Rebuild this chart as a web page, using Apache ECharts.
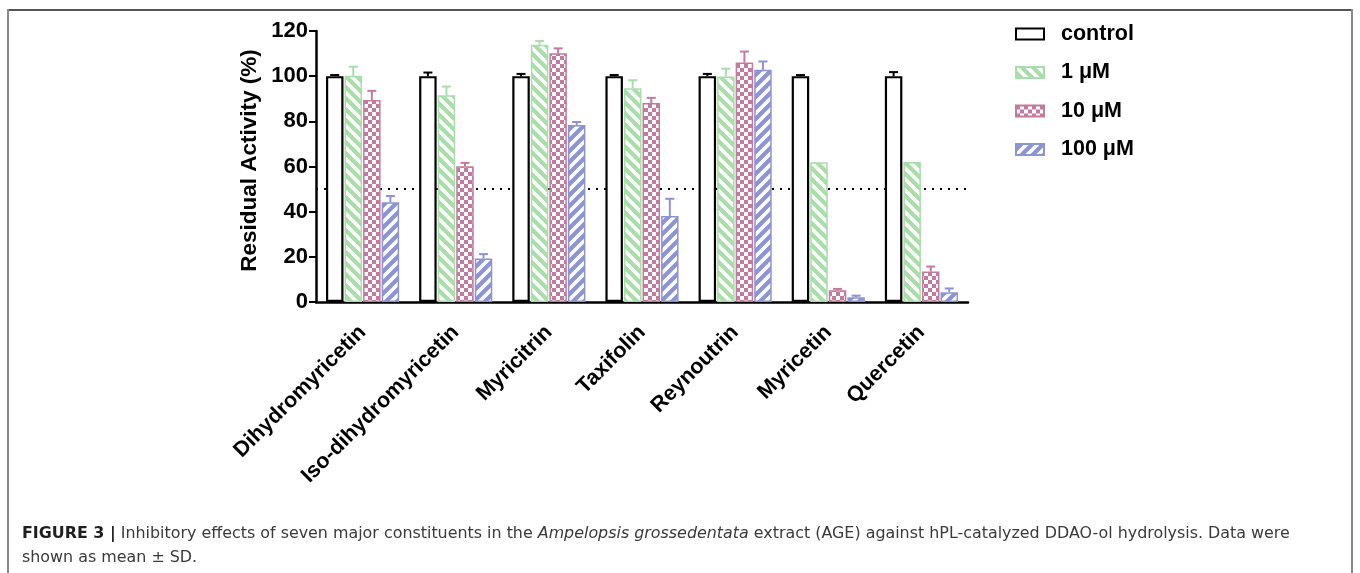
<!DOCTYPE html>
<html>
<head>
<meta charset="utf-8">
<script src="https://cdn.jsdelivr.net/npm/echarts@6/dist/echarts.min.js"></script>
<style>
  html, body { margin: 0; padding: 0; background: #fff; }
  #chart { width: 1360px; height: 573px; }
</style>
</head>
<body>
<div id="chart"></div>
<script>
// Compounds tested
const categories = ['Dihydromyricetin', 'Iso-dihydromyricetin', 'Myricitrin', 'Taxifolin', 'Reynoutrin', 'Myricetin', 'Quercetin'];
const seriesNames = ['control', '1 \u03bcM', '10 \u03bcM', '100 \u03bcM'];

// Residual activity (%) means and SDs per concentration
const controlMean = [100, 100, 100, 100, 100, 100, 100];
const controlSD   = [0.5, 1.6, 1.0, 0.5, 1.0, 0.5, 1.8];
const uM1Mean     = [100.2, 91.6, 113.9, 94.7, 99.8, 61.9, 62.0];
const uM1SD       = [4.0, 3.8, 1.7, 3.5, 3.5, 0, 0];
const uM10Mean    = [89.5, 60.1, 110.1, 88.1, 106.0, 5.2, 13.5];
const uM10SD      = [4.0, 1.5, 2.2, 2.3, 4.9, 0.6, 2.2];
const uM100Mean   = [44.2, 19.3, 78.4, 38.1, 102.8, 2.1, 4.3];
const uM100SD     = [2.7, 1.9, 1.3, 7.6, 3.7, 0.7, 1.7];

// 50 % inhibition reference level
const halfLevel = 50;

const FONT = '"Liberation Sans", Arial, Helvetica, sans-serif';
const CAPTION_FONT = '"DejaVu Sans", Verdana, sans-serif';
const GREEN = '#a9dda9';
const PINK = '#c47a9f';
const BLUE = '#8c94d4';

// Fill tiles for the hatched / checkered bars
function stripeTile(bg, backslash) {
  const n = 11;
  const c = document.createElement('canvas');
  c.width = n; c.height = n;
  const ctx = c.getContext('2d');
  ctx.fillStyle = bg; ctx.fillRect(0, 0, n, n);
  ctx.strokeStyle = '#ffffff'; ctx.lineWidth = 3.6;
  ctx.beginPath();
  for (let s = -n; s <= n; s += n) {
    if (backslash) {
      ctx.moveTo(s - n, -n); ctx.lineTo(s + 2 * n, 2 * n);
    } else {
      ctx.moveTo(s - n, 2 * n); ctx.lineTo(s + 2 * n, -n);
    }
  }
  ctx.stroke();
  return c;
}
function checkerTile(bg) {
  const c = document.createElement('canvas');
  c.width = 8; c.height = 8;
  const ctx = c.getContext('2d');
  ctx.fillStyle = bg; ctx.fillRect(0, 0, 8, 8);
  ctx.fillStyle = '#ffffff';
  ctx.fillRect(4, 0, 4, 4);
  ctx.fillRect(0, 4, 4, 4);
  return c;
}

const fills = [
  '#ffffff',
  { image: stripeTile(GREEN, true), repeat: 'repeat' },
  { image: checkerTile(PINK), repeat: 'repeat' },
  { image: stripeTile(BLUE, false), repeat: 'repeat' }
];
const edgeColors = ['#000000', GREEN, PINK, BLUE];
const edgeWidths = [2.2, 1.5, 1.5, 1.5];
const means = [controlMean, uM1Mean, uM10Mean, uM100Mean];
const sds = [controlSD, uM1SD, uM10SD, uM100SD];

// Bar geometry shared by the bars and their error whiskers
const BAR_W = 17.5;
const BAR_GAP = 0.06;
const step = BAR_W * (1 + BAR_GAP);
const groupW = 4 * BAR_W + 3 * BAR_W * BAR_GAP;
function barOffset(k) { return -groupW / 2 + BAR_W / 2 + k * step; }

const series = [];
seriesNames.forEach(function (name, k) {
  const s = {
    name: name,
    type: 'bar',
    barWidth: BAR_W,
    barGap: (BAR_GAP * 100) + '%',
    z: 2,
    itemStyle: { color: fills[k], borderColor: edgeColors[k], borderWidth: edgeWidths[k] },
    emphasis: { disabled: true },
    data: means[k]
  };
  if (k === 0) {
    s.markLine = {
      silent: true,
      z: 1,
      symbol: ['none', 'none'],
      label: { show: false },
      lineStyle: { color: '#000', width: 2.2, type: [2, 6] },
      data: [{ yAxis: halfLevel }]
    };
  }
  series.push(s);
});

// Upper SD whiskers with caps
seriesNames.forEach(function (name, k) {
  const data = means[k].map(function (m, i) { return [i, m, sds[k][i]]; });
  series.push({
    name: name + ' SD',
    type: 'custom',
    z: 3,
    silent: true,
    encode: { x: 0, y: 1 },
    data: data,
    renderItem: function (params, api) {
      const sd = api.value(2);
      if (!sd) return null;
      const m = api.value(1);
      const base = api.coord([api.value(0), m]);
      const top = api.coord([api.value(0), m + sd]);
      const x = base[0] + barOffset(k);
      const st = { stroke: edgeColors[k], lineWidth: 2 };
      return {
        type: 'group',
        children: [
          { type: 'line', shape: { x1: x, y1: base[1], x2: x, y2: top[1] }, style: st },
          { type: 'line', shape: { x1: x - 4.5, y1: top[1], x2: x + 4.5, y2: top[1] }, style: st }
        ]
      };
    }
  });
});

const chart = echarts.init(document.getElementById('chart'), null, { renderer: 'canvas' });
chart.setOption({
  animation: false,
  backgroundColor: '#ffffff',
  textStyle: { fontFamily: FONT },
  grid: { left: 316, right: 392, top: 31, bottom: 271, containLabel: false },
  legend: {
    orient: 'vertical',
    left: 1015,
    top: 23,
    padding: 0,
    icon: 'rect',
    itemWidth: 28,
    itemHeight: 11,
    itemGap: 16.5,
    selectedMode: false,
    data: seriesNames,
    textStyle: { fontFamily: FONT, fontWeight: 'bold', fontSize: 21.5, color: '#000', lineHeight: 22, padding: [0, 0, 0, 12] }
  },
  xAxis: {
    type: 'category',
    data: categories,
    axisLine: { lineStyle: { color: '#000', width: 2.5 } },
    axisTick: { alignWithLabel: true, length: 7, lineStyle: { color: '#000', width: 2 } },
    axisLabel: { rotate: 45, margin: 27, interval: 0, color: '#000', fontFamily: FONT, fontWeight: 'bold', fontSize: 21.5 }
  },
  yAxis: {
    type: 'value',
    min: 0,
    max: 120,
    interval: 20,
    name: 'Residual Activity (%)',
    nameLocation: 'middle',
    nameGap: 55,
    nameTextStyle: { color: '#000', fontFamily: FONT, fontWeight: 'bold', fontSize: 22.5, padding: [0, 0, 0, 12] },
    axisLine: { show: true, lineStyle: { color: '#000', width: 2.5 } },
    axisTick: { show: true, length: 7, lineStyle: { color: '#000', width: 2 } },
    axisLabel: { margin: 8, color: '#000', fontFamily: FONT, fontWeight: 'bold', fontSize: 22 },
    splitLine: { show: false }
  },
  graphic: [
    // figure frame (open at the bottom)
    { type: 'line', silent: true, shape: { x1: 8, y1: 10, x2: 1352, y2: 10 }, style: { stroke: '#555', lineWidth: 2 } },
    { type: 'line', silent: true, shape: { x1: 8, y1: 9, x2: 8, y2: 573 }, style: { stroke: '#8a8a8a', lineWidth: 2 } },
    { type: 'line', silent: true, shape: { x1: 1352, y1: 9, x2: 1352, y2: 573 }, style: { stroke: '#8a8a8a', lineWidth: 2 } },
    {
      type: 'text',
      silent: true,
      left: 22,
      top: 522,
      style: {
        text: '{b|FIGURE 3 |} Inhibitory effects of seven major constituents in the {i|Ampelopsis grossedentata} extract (AGE) against hPL-catalyzed DDAO-ol hydrolysis. Data were\nshown as mean \u00b1 SD.',
        fill: '#3a3a3a',
        font: '15.9px ' + CAPTION_FONT,
        lineHeight: 24,
        rich: {
          b: { fontWeight: 'bold', fill: '#1f1f1f', fontSize: 15.9, fontFamily: CAPTION_FONT, lineHeight: 24 },
          i: { fontStyle: 'italic', fill: '#3a3a3a', fontSize: 15.9, fontFamily: CAPTION_FONT, lineHeight: 24 }
        }
      }
    }
  ],
  series: series
});
</script>
</body>
</html>
